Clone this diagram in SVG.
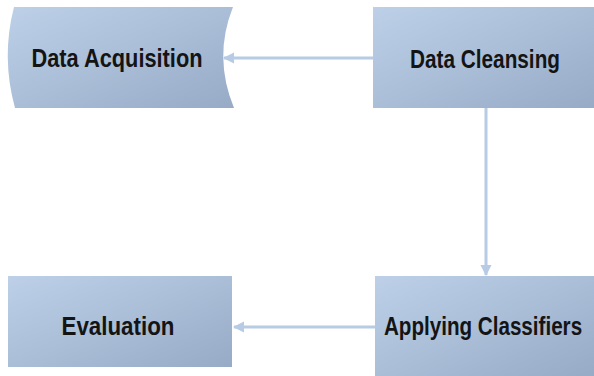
<svg xmlns="http://www.w3.org/2000/svg" width="594" height="376" viewBox="0 0 594 376">
<defs>
<linearGradient id="fill" x1="0" y1="0" x2="1" y2="1">
<stop offset="0" stop-color="#bdd0e8"/>
<stop offset="0.5" stop-color="#aabed8"/>
<stop offset="1" stop-color="#97aac6"/>
</linearGradient>
<marker id="ah" markerWidth="12" markerHeight="12" refX="10" refY="6" orient="auto" markerUnits="userSpaceOnUse">
<path d="M0,0.5 L11,6 L0,11.5 Z" fill="#b7cbe5"/>
</marker>
<style>
.box{fill:url(#fill);}
.lbl{font-family:"Liberation Sans",Arial,sans-serif;font-weight:bold;font-size:25px;fill:#141414;text-anchor:middle;}
.conn{stroke:#b7cbe5;stroke-width:3;fill:none;}
</style>
</defs>
<rect width="594" height="376" fill="#ffffff"/>
<g id="connectors">
<line class="conn" x1="373" y1="58" x2="224" y2="58" marker-end="url(#ah)"/>
<line class="conn" x1="486" y1="108" x2="486" y2="275" marker-end="url(#ah)"/>
<line class="conn" x1="375" y1="327" x2="234" y2="327" marker-end="url(#ah)"/>
</g>
<g id="data-acquisition">
<path class="box" d="M14,7 L233,7 Q213,57 234,108 L15,108 Q1,57 14,7 Z"/>
<text class="lbl" x="117" y="67" textLength="171" lengthAdjust="spacingAndGlyphs">Data Acquisition</text>
</g>
<g id="data-cleansing">
<rect class="box" x="373" y="7" width="221" height="101"/>
<text class="lbl" x="485" y="68" textLength="150" lengthAdjust="spacingAndGlyphs">Data Cleansing</text>
</g>
<g id="evaluation">
<rect class="box" x="8" y="276" width="224" height="91"/>
<text class="lbl" x="118" y="335" textLength="113" lengthAdjust="spacingAndGlyphs">Evaluation</text>
</g>
<g id="applying-classifiers">
<rect class="box" x="375" y="276" width="219" height="100"/>
<text class="lbl" transform="translate(483,335) scale(0.825,1)" x="0" y="0">Applying Classifiers</text>
</g>
</svg>
